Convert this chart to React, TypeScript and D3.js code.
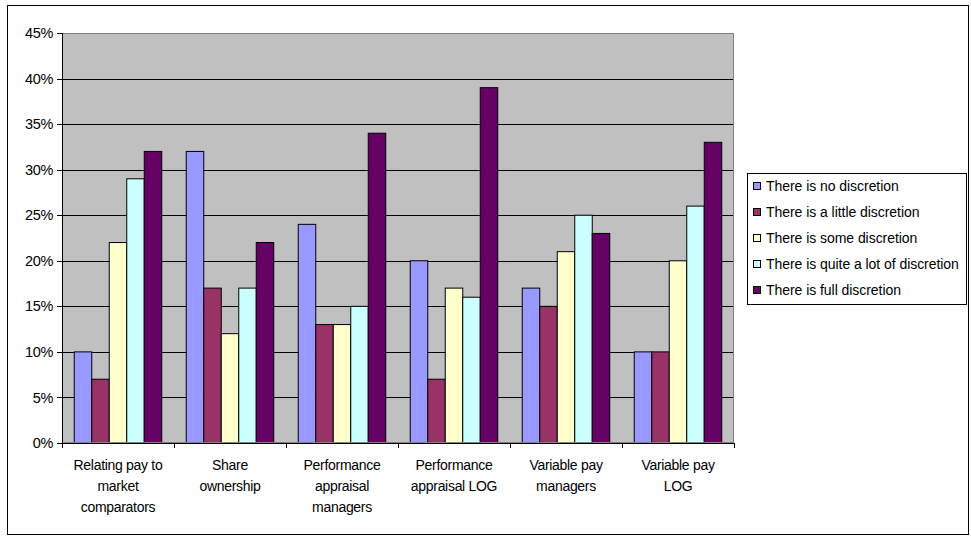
import React from "react";
import * as d3 from "d3";

const categories: string[][] = [
  ["Relating pay to", "market", "comparators"],
  ["Share", "ownership"],
  ["Performance", "appraisal", "managers"],
  ["Performance", "appraisal LOG"],
  ["Variable pay", "managers"],
  ["Variable pay", "LOG"],
];
const seriesNames = [
  "There is no discretion",
  "There is a little discretion",
  "There is some discretion",
  "There is quite a lot of discretion",
  "There is full discretion",
];
const noDiscretion = [10, 32, 24, 20, 17, 10];
const littleDiscretion = [7, 17, 13, 7, 15, 10];
const someDiscretion = [22, 12, 13, 17, 21, 20];
const quiteALot = [29, 17, 15, 16, 25, 26];
const fullDiscretion = [32, 22, 34, 39, 23, 33];
const seriesValues = [noDiscretion, littleDiscretion, someDiscretion, quiteALot, fullDiscretion];
const colors = ["#9999FF", "#993366", "#FFFFCC", "#CCFFFF", "#660066"];
const yTicks = [0, 5, 10, 15, 20, 25, 30, 35, 40, 45];

export default function App() {
  const W = 971, H = 536;
  const left = 62, right = 734, top = 33, bottom = 443;
  const font = "'Liberation Sans', Arial, sans-serif";
  const x0 = d3.scaleBand<number>().domain(d3.range(categories.length)).range([left, right]).paddingInner(0).paddingOuter(0);
  const groupW = x0.bandwidth();
  const barW = groupW / (5 + 1.4);
  const y = d3.scaleLinear().domain([0, 45]).range([bottom, top]);
  return (
    <svg width={W} height={H} style={{ position: "absolute", left: 0, top: 0, fontFamily: font }}>
      <rect x={0} y={0} width={W} height={H} fill="#fff" />
      <rect x={7.5} y={5.5} width={961} height={529} fill="#fff" stroke="#000" strokeWidth={1} />
      <rect x={left} y={top} width={right - left} height={bottom - top} fill="#C0C0C0" />
      {yTicks.filter((t) => t > 0 && t < 45).map((t) => (
        <line key={t} x1={left} x2={right} y1={Math.round(y(t)) + 0.5} y2={Math.round(y(t)) + 0.5} stroke="#000" strokeWidth={1} />
      ))}
      {seriesValues.map((vals, s) =>
        vals.map((v, i) => {
          const bx = (x0(i) as number) + barW * 0.7 + s * barW;
          return (
            <rect key={`${s}-${i}`} x={bx} y={y(v)} width={barW} height={bottom - y(v)} fill={colors[s]} stroke="#000" strokeWidth={1} />
          );
        })
      )}
      <rect x={left + 0.5} y={top + 0.5} width={right - left - 1} height={bottom - top - 1} fill="none" stroke="#808080" strokeWidth={1} />
      <line x1={left + 0.5} x2={left + 0.5} y1={top} y2={bottom + 4} stroke="#000" />
      <line x1={left - 4} x2={right} y1={bottom + 0.5} y2={bottom + 0.5} stroke="#000" />
      {yTicks.map((t) => (
        <g key={t}>
          <line x1={left - 5} x2={left} y1={Math.round(y(t)) + 0.5} y2={Math.round(y(t)) + 0.5} stroke="#000" />
          <text x={53} y={y(t)} dy="0.35em" textAnchor="end" fontSize={14.5} letterSpacing={-0.3}>{t}%</text>
        </g>
      ))}
      {d3.range(categories.length + 1).map((i) => {
        const xx = Math.round(left + i * groupW) + 0.5;
        return <line key={i} x1={xx} x2={xx} y1={bottom} y2={bottom + 5} stroke="#000" />;
      })}
      {categories.map((lines, i) => (
        <text key={i} textAnchor="middle" fontSize={14} letterSpacing={-0.3}>
          {lines.map((l, k) => (
            <tspan key={k} x={(x0(i) as number) + groupW / 2} y={470 + k * 21}>{l}</tspan>
          ))}
        </text>
      ))}
      <rect x={747.5} y={173.5} width={219} height={131} fill="#fff" stroke="#000" />
      {seriesNames.map((n, s) => (
        <g key={s}>
          <rect x={753.5} y={182.5 + s * 26} width={7} height={7} fill={colors[s]} stroke="#000" />
          <text x={766} y={186 + s * 26} dy="0.35em" fontSize={14} letterSpacing={-0.05}>{n}</text>
        </g>
      ))}
    </svg>
  );
}
